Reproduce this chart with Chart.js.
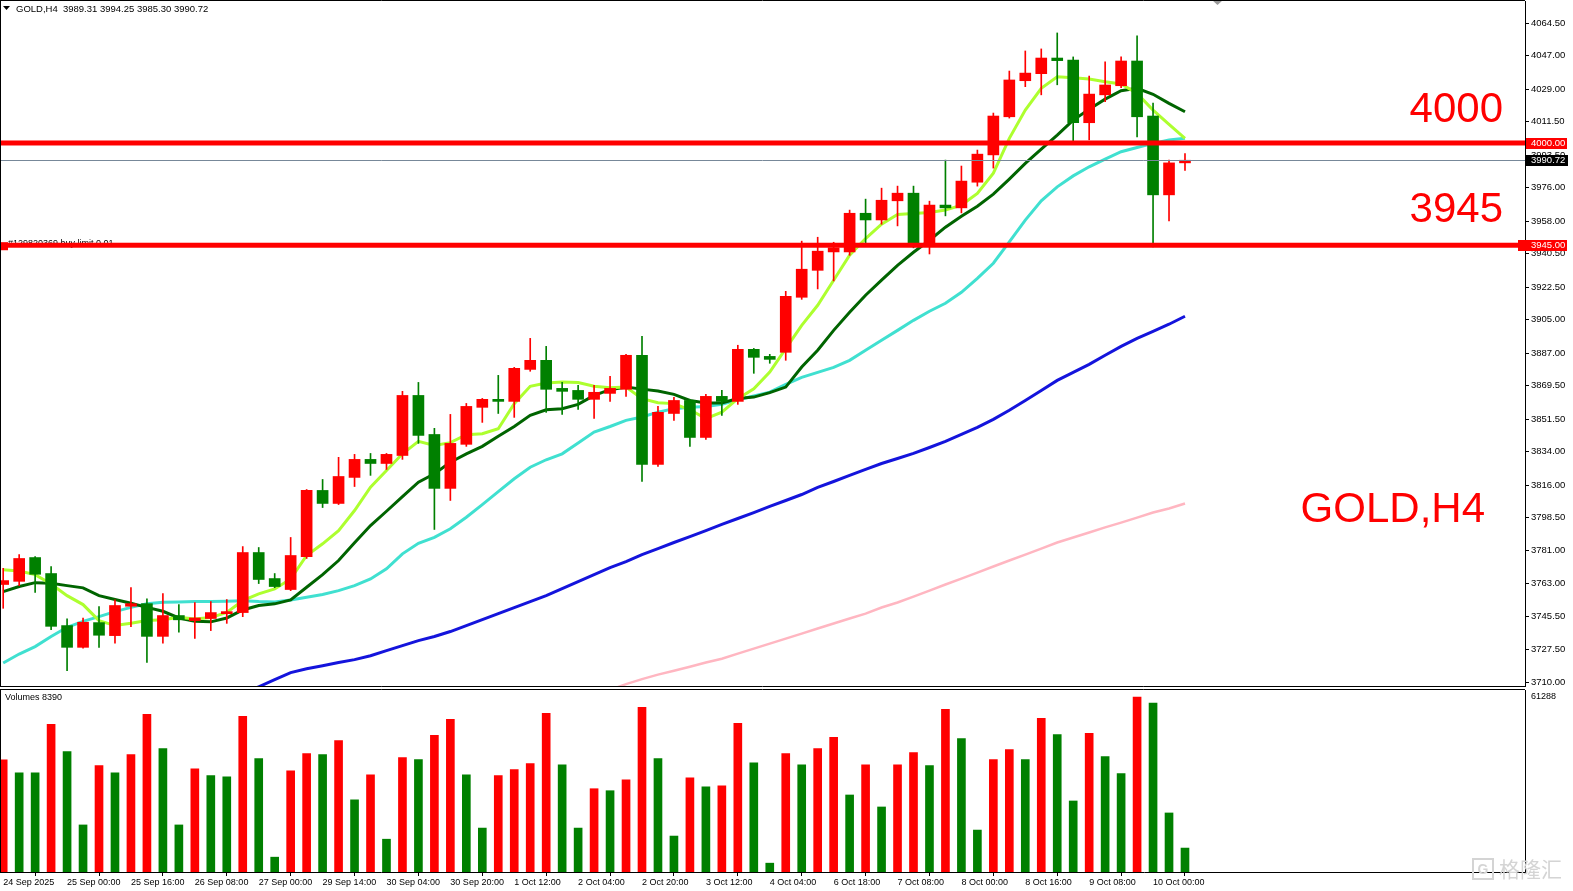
<!DOCTYPE html>
<html>
<head>
<meta charset="utf-8">
<script src="https://cdn.jsdelivr.net/npm/chart.js@4.4.1/dist/chart.umd.min.js"></script>
<style>
  body { margin: 0; background: #fff; }
  #wrap { position: relative; width: 1573px; height: 891px; overflow: hidden; }
  #main { position: absolute; left: 0; top: 0; }
  #vol { position: absolute; left: 0; top: 689px; }
</style>
</head>
<body>
<div id="wrap">
  <canvas id="main" width="1573" height="688" style="width:1573px;height:688px"></canvas>
  <canvas id="vol" width="1573" height="202" style="width:1573px;height:202px"></canvas>
</div>
<script>
// GOLD H4 bars, 24 Sep - 10 Oct 2025
const timeLabels = ['24 Sep 2025', '25 Sep 00:00', '25 Sep 16:00', '26 Sep 08:00', '27 Sep 00:00',
  '29 Sep 14:00', '30 Sep 04:00', '30 Sep 20:00', '1 Oct 12:00', '2 Oct 04:00', '2 Oct 20:00',
  '3 Oct 12:00', '4 Oct 04:00', '6 Oct 18:00', '7 Oct 08:00', '8 Oct 00:00', '8 Oct 16:00',
  '9 Oct 08:00', '10 Oct 00:00'];

const opens = [3762.5, 3764.2, 3777.0, 3768.4, 3740.4, 3728.7, 3742.0, 3735.0, 3750.8, 3752.2,
  3734.6, 3745.8, 3743.1, 3744.2, 3746.8, 3747.4, 3779.7, 3765.7, 3759.8, 3777.5,
  3813.1, 3806.1, 3820.1, 3829.8, 3827.6, 3831.9, 3864.2, 3843.2, 3814.2, 3837.9,
  3857.8, 3862.1, 3861.0, 3878.2, 3883.1, 3868.0, 3866.9, 3862.1, 3865.3, 3867.5,
  3885.8, 3827.1, 3854.5, 3861.5, 3841.6, 3863.7, 3861.0, 3889.0, 3885.2, 3887.4,
  3917.0, 3931.5, 3941.4, 3941.4, 3962.2, 3958.6, 3968.9, 3973.0, 3945.0, 3966.6,
  3965.1, 3978.9, 3993.6, 4014.1, 4033.5, 4037.3, 4045.7, 4044.6, 4010.9, 4025.9,
  4030.8, 4044.1, 4014.5, 3972.1, 3989.31];
const highs = [3771.2, 3778.6, 3777.5, 3772.2, 3744.0, 3744.5, 3750.6, 3754.2, 3760.8, 3754.8,
  3757.6, 3751.7, 3752.8, 3753.3, 3754.4, 3782.9, 3782.4, 3768.4, 3787.8, 3813.6,
  3819.0, 3830.9, 3832.5, 3833.0, 3833.0, 3866.4, 3871.2, 3846.5, 3854.0, 3859.9,
  3862.6, 3875.0, 3879.3, 3894.9, 3890.6, 3871.2, 3869.6, 3869.6, 3874.5, 3886.3,
  3896.0, 3858.3, 3863.2, 3862.1, 3864.8, 3866.9, 3891.2, 3889.5, 3886.3, 3920.2,
  3947.2, 3949.3, 3946.6, 3963.9, 3969.8, 3975.7, 3976.8, 3976.8, 3968.7, 3990.8,
  3987.6, 3996.2, 4016.1, 4038.7, 4049.5, 4050.6, 4059.2, 4046.3, 4036.0, 4043.6,
  4046.3, 4057.6, 4021.5, 3990.8, 3994.25];
const lows = [3749.7, 3761.9, 3758.3, 3738.2, 3716.1, 3728.3, 3728.7, 3730.9, 3739.8, 3720.6,
  3730.9, 3736.8, 3733.5, 3737.7, 3741.6, 3745.2, 3763.0, 3760.8, 3759.2, 3776.5,
  3803.9, 3805.5, 3815.2, 3821.2, 3824.4, 3829.8, 3838.4, 3792.1, 3807.7, 3836.8,
  3849.7, 3854.5, 3852.4, 3877.2, 3855.1, 3854.0, 3856.7, 3851.9, 3861.0, 3863.7,
  3817.9, 3826.0, 3850.8, 3836.8, 3840.5, 3853.5, 3859.4, 3876.1, 3881.5, 3883.1,
  3915.9, 3921.5, 3925.8, 3939.6, 3945.0, 3956.3, 3955.4, 3943.6, 3940.3, 3960.8,
  3962.4, 3976.8, 3986.5, 4013.4, 4030.3, 4025.9, 4031.3, 4000.6, 4001.7, 4022.2,
  4029.7, 4003.3, 3944.1, 3958.1, 3985.30];
const closes = [3764.6, 3776.5, 3768.0, 3740.0, 3728.7, 3742.2, 3735.2, 3751.2, 3752.2, 3734.6,
  3745.8, 3743.5, 3744.5, 3747.4, 3747.9, 3779.7, 3765.2, 3761.4, 3778.1, 3813.1,
  3806.1, 3820.6, 3829.8, 3827.6, 3832.5, 3864.2, 3842.7, 3814.2, 3838.4, 3858.3,
  3862.1, 3861.0, 3878.8, 3883.1, 3867.5, 3866.4, 3862.1, 3865.9, 3868.0, 3885.8,
  3827.1, 3855.1, 3861.5, 3841.6, 3863.7, 3861.0, 3889.0, 3884.7, 3883.6, 3917.5,
  3932.1, 3941.8, 3943.6, 3962.2, 3958.6, 3969.2, 3973.0, 3945.0, 3966.6, 3965.1,
  3979.5, 3994.0, 4014.5, 4033.9, 4037.6, 4045.7, 4044.3, 4010.9, 4026.3, 4031.2,
  4044.1, 4014.1, 3972.1, 3989.3, 3990.72];

const volumes = [39300, 34800, 34800, 51800, 42200, 16500, 37300, 34800, 41200, 55300,
  43300, 16500, 36200, 33800, 33400, 54600, 39800, 5200, 35500, 41500,
  41200, 46100, 25300, 34100, 11500, 40100, 39400, 47900, 53500, 34100,
  15400, 33800, 35900, 38000, 55600, 37600, 15400, 29200, 28500, 32300,
  57700, 39800, 12600, 33000, 29900, 30200, 52100, 38300, 3100, 41500,
  37600, 43300, 47200, 27000, 37600, 22800, 37600, 41900, 37300, 57000,
  46800, 14700, 39400, 42900, 39400, 53900, 48200, 24900, 48600, 40500,
  34500, 61288, 59200, 20700, 8390];

// moving averages as drawn on the chart
const maLime = [3770.4, 3769.8, 3767.8, 3762.8, 3756.5, 3751.7, 3743.1, 3740.4, 3741.6, 3743.1,
  3743.5, 3744.9, 3744.0, 3744.7, 3747.5, 3753.8, 3757.5, 3760.1, 3765.5, 3778.1,
  3784.4, 3791.5, 3802.3, 3814.9, 3823.8, 3832.8, 3839.5, 3837.3, 3838.8, 3843.1,
  3843.6, 3846.3, 3859.8, 3869.1, 3870.9, 3871.4, 3871.1, 3869.1, 3868.4, 3868.7,
  3862.5, 3860.3, 3859.8, 3856.5, 3851.7, 3855.2, 3862.5, 3867.8, 3876.8, 3889.4,
  3901.9, 3912.7, 3926.2, 3939.6, 3948.6, 3956.3, 3961.5, 3962.1, 3962.6, 3963.9,
  3966.6, 3972.9, 3983.8, 4002.5, 4017.7, 4029.4, 4035.6, 4035.1, 4034.4, 4032.9,
  4031.7, 4026.7, 4017.7, 4010.0, 4002.5];
const maGreen = [3758.7, 3761.4, 3763.5, 3763.2, 3761.9, 3760.7, 3756.5, 3754.4, 3752.4, 3750.2,
  3748.1, 3744.5, 3742.7, 3742.4, 3744.5, 3748.8, 3751.2, 3752.1, 3754.2, 3761.0,
  3767.8, 3775.4, 3784.9, 3794.2, 3801.9, 3809.8, 3817.5, 3822.1, 3828.3, 3832.8,
  3836.8, 3842.2, 3847.5, 3853.5, 3856.5, 3857.1, 3859.4, 3864.2, 3867.3, 3868.7,
  3867.6, 3866.6, 3864.8, 3861.5, 3860.1, 3860.1, 3862.5, 3863.3, 3865.7, 3868.7,
  3879.5, 3888.5, 3899.2, 3908.9, 3918.1, 3926.2, 3934.2, 3941.2, 3947.7, 3954.7,
  3960.6, 3966.0, 3972.5, 3980.6, 3989.0, 3996.7, 4004.2, 4012.3, 4018.2, 4023.6,
  4028.1, 4029.4, 4026.2, 4021.3, 4016.8];
const maAqua = [3720.3, 3725.1, 3729.1, 3734.5, 3739.5, 3742.7, 3745.2, 3747.9, 3750.2, 3752.1,
  3752.9, 3753.1, 3753.3, 3753.3, 3753.5, 3753.8, 3753.3, 3753.1, 3754.2, 3755.6,
  3757.1, 3759.2, 3761.9, 3765.5, 3770.9, 3779.0, 3784.7, 3787.9, 3792.5, 3798.7,
  3805.5, 3812.5, 3819.4, 3825.6, 3829.6, 3832.8, 3838.6, 3844.5, 3847.5, 3850.8,
  3852.6, 3855.2, 3857.1, 3857.9, 3858.3, 3859.4, 3861.9, 3863.9, 3866.0, 3870.2,
  3873.9, 3876.6, 3879.3, 3883.1, 3888.5, 3893.9, 3899.2, 3904.6, 3909.5, 3913.8,
  3919.7, 3927.2, 3935.3, 3946.8, 3958.5, 3968.9, 3976.4, 3982.3, 3987.2, 3991.3,
  3995.3, 3997.6, 3999.8, 4001.6, 4002.5];
const maBlue = [null, null, null, null, null, null, null, null, null, null,
  null, null, null, null, 3700.5, 3703.5, 3707.5, 3711.3, 3715.1, 3717.2,
  3718.8, 3720.5, 3722.1, 3724.2, 3726.9, 3729.6, 3732.3, 3734.5, 3737.2, 3740.4,
  3743.6, 3746.8, 3750.1, 3753.3, 3756.5, 3760.3, 3764.1, 3767.8, 3771.6, 3774.8,
  3778.6, 3781.8, 3785.1, 3788.3, 3791.5, 3794.8, 3798.0, 3801.2, 3804.5, 3807.7,
  3810.9, 3814.7, 3817.9, 3821.2, 3824.4, 3827.6, 3830.3, 3833.0, 3836.2, 3839.5,
  3843.2, 3847.0, 3851.3, 3856.2, 3861.5, 3866.9, 3872.3, 3876.6, 3880.9, 3885.8,
  3890.6, 3894.9, 3898.7, 3902.5, 3906.8];
const maPink = [null, null, null, null, null, null, null, null, null, null,
  null, null, null, null, null, null, null, null, null, null,
  null, null, null, null, null, null, null, null, null, null,
  null, null, null, null, null, null, null, null, 3705.8, 3708.9,
  3711.6, 3714.0, 3716.1, 3718.3, 3720.5, 3722.6, 3725.3, 3728.0, 3730.7, 3733.4,
  3736.1, 3738.8, 3741.5, 3744.2, 3746.8, 3750.1, 3752.8, 3756.0, 3759.2, 3762.5,
  3765.7, 3768.9, 3772.2, 3775.4, 3778.6, 3781.8, 3785.1, 3787.8, 3790.5, 3793.2,
  3795.8, 3798.5, 3801.2, 3803.4, 3806.1];

const priceTicks = [4064.5, 4047.0, 4029.0, 4011.5, 3993.5, 3976.0, 3958.0, 3940.5, 3922.5, 3905.0,
  3887.0, 3869.5, 3851.5, 3834.0, 3816.0, 3798.5, 3781.0, 3763.0, 3745.5, 3727.5, 3710.0];
const levels = [4000, 3945];
const volTick = 61288;

const UP = '#ff0000';
const DOWN = '#008000';
const AXIS_W = 48;
const X_MIN = -0.2, X_MAX = 95.29;
const Y_MIN = 3707.9, Y_MAX = 4076.38;
const VOL_MAX = 63810;
const FONT = '"Liberation Sans", Arial, sans-serif';

Chart.defaults.font.family = FONT;
Chart.defaults.font.size = 9;
Chart.defaults.color = '#000';

const idx = closes.map((c, i) => i);
const last = closes.length - 1;
const candleColor = closes.map((c, i) => c >= opens[i] ? UP : DOWN);
const volColor = volumes.map((v, i) => (i === 0 || v > volumes[i - 1]) ? UP : DOWN);

function maLine(values, color, order, width) {
  return {
    type: 'line',
    data: idx.map(i => ({ x: i, y: values[i] })),
    borderColor: color,
    borderWidth: width || 3,
    pointRadius: 0,
    tension: 0,
    fill: false,
    order: order
  };
}

function hline(ctx, x1, x2, y) {
  ctx.beginPath();
  ctx.moveTo(x1, y);
  ctx.lineTo(x2, y);
  ctx.stroke();
}

function tag(ctx, y, text, bg, left, right) {
  const yy = Math.round(y);
  ctx.fillStyle = bg;
  ctx.fillRect(left, yy - 5, right - left, 11);
  ctx.fillStyle = '#fff';
  ctx.textAlign = 'left';
  ctx.textBaseline = 'middle';
  ctx.fillText(text, 1531, yy + 0.5);
}

// y axis: fixed width, no extra room for the end labels
function fitRightAxis(s) {
  s.width = AXIS_W;
  s.paddingTop = 0;
  s.paddingBottom = 0;
}

const mainDecor = {
  id: 'mainDecor',
  afterDatasetsDraw(chart) {
    const { ctx, chartArea: a, scales: { y } } = chart;
    ctx.save();
    // order note under the buy-limit line
    ctx.font = '9px ' + FONT;
    ctx.fillStyle = '#000';
    ctx.textAlign = 'left';
    ctx.textBaseline = 'alphabetic';
    ctx.fillText('#129820369 buy limit 0.01', 8, y.getPixelForValue(levels[1]) + 1);

    // bid line
    ctx.strokeStyle = '#778899';
    ctx.lineWidth = 1;
    hline(ctx, 0, a.right, Math.round(y.getPixelForValue(closes[last])) + 0.5);

    // horizontal levels
    ctx.fillStyle = '#ff0000';
    levels.forEach(v => {
      const py = y.getPixelForValue(v);
      ctx.fillRect(0, py - 2.5, a.right, 5);
    });
    const pb = y.getPixelForValue(levels[1]);
    ctx.fillRect(0, pb - 3, 8, 8);
    ctx.restore();
  },
  afterDraw(chart) {
    const { ctx, chartArea: a, scales: { y } } = chart;
    ctx.save();
    ctx.font = '9.5px ' + FONT;
    tag(ctx, y.getPixelForValue(closes[last]), closes[last].toFixed(2), '#000', 1526, 1568);
    tag(ctx, y.getPixelForValue(levels[0]), levels[0].toFixed(2), '#ff0000', 1526, 1567);
    tag(ctx, y.getPixelForValue(levels[1]), levels[1].toFixed(2), '#ff0000', 1518, 1567);

    // header
    ctx.fillStyle = '#000';
    ctx.beginPath();
    ctx.moveTo(3, 6); ctx.lineTo(10, 6); ctx.lineTo(6.5, 10); ctx.closePath();
    ctx.fill();
    ctx.textAlign = 'left';
    ctx.textBaseline = 'alphabetic';
    const hdr = 'GOLD,H4  ' + [opens[last], highs[last], lows[last], closes[last]].map(v => v.toFixed(2)).join(' ');
    ctx.fillText(hdr, 16, 12);

    // big annotations
    ctx.fillStyle = '#ff0000';
    ctx.font = '42px ' + FONT;
    ctx.textAlign = 'right';
    ctx.fillText(String(levels[0]), 1503, 122);
    ctx.fillText(String(levels[1]), 1503, 222);
    ctx.fillText('GOLD,H4', 1485, 522);

    // shift marker
    ctx.fillStyle = '#9a9a9a';
    ctx.beginPath();
    ctx.moveTo(1212, 0); ctx.lineTo(1223, 0); ctx.lineTo(1217.5, 5); ctx.closePath();
    ctx.fill();

    // frame
    ctx.strokeStyle = '#000';
    ctx.lineWidth = 1;
    ctx.beginPath();
    ctx.moveTo(0.5, 0); ctx.lineTo(0.5, a.bottom);
    ctx.stroke();
    hline(ctx, 0, a.right, 0.5);
    hline(ctx, 0, a.right, a.bottom + 0.5);
    ctx.restore();
  }
};

const volDecor = {
  id: 'volDecor',
  afterDraw(chart) {
    const { ctx, chartArea: a } = chart;
    ctx.save();
    ctx.strokeStyle = '#000';
    ctx.lineWidth = 1;
    hline(ctx, 0, a.right, 0.5);
    ctx.beginPath();
    ctx.moveTo(0.5, 0); ctx.lineTo(0.5, a.bottom);
    ctx.stroke();
    ctx.fillStyle = '#000';
    ctx.font = '9px ' + FONT;
    ctx.textAlign = 'left';
    ctx.textBaseline = 'alphabetic';
    ctx.fillText('Volumes ' + volumes[last], 5, 11);

    // watermark
    ctx.strokeStyle = '#d4d4d4';
    ctx.lineWidth = 2;
    ctx.strokeRect(1473, 170, 20, 20);
    ctx.fillStyle = '#d4d4d4';
    ctx.font = 'bold 14px ' + FONT;
    ctx.textAlign = 'center';
    ctx.fillText('G', 1483, 185);
    ctx.font = '21px "Noto Sans CJK SC", sans-serif';
    ctx.textAlign = 'left';
    ctx.fillText('格隆汇', 1499, 188);
    ctx.restore();
  }
};

new Chart(document.getElementById('main'), {
  type: 'bar',
  data: {
    datasets: [
      {
        label: 'body',
        data: idx.map(i => ({ x: i, y: [opens[i], closes[i]] })),
        backgroundColor: candleColor,
        barThickness: 11,
        grouped: false,
        order: 1
      },
      {
        label: 'wick',
        data: idx.map(i => ({ x: i, y: [lows[i], highs[i]] })),
        backgroundColor: candleColor,
        barThickness: 1,
        grouped: false,
        order: 2
      },
      maLine(maPink, '#ffb6c1', 14, 2.5),
      maLine(maBlue, '#1414dc', 13),
      maLine(maAqua, '#40e0d0', 12),
      maLine(maGreen, '#006400', 11),
      maLine(maLime, '#adff2f', 10)
    ]
  },
  options: {
    responsive: false,
    animation: false,
    layout: { padding: { top: 1, bottom: 2, left: 0, right: 0 } },
    plugins: { legend: { display: false }, tooltip: { enabled: false } },
    scales: {
      x: { type: 'linear', display: false, min: X_MIN, max: X_MAX, offset: false },
      y: {
        type: 'linear',
        position: 'right',
        min: Y_MIN,
        max: Y_MAX,
        afterBuildTicks: s => { s.ticks = priceTicks.map(v => ({ value: v })); },
        afterFit: fitRightAxis,
        border: { display: true, color: '#000' },
        grid: { drawOnChartArea: false, drawTicks: true, tickLength: 4, color: '#000' },
        ticks: {
          padding: 2, autoSkip: false, color: '#000', font: { size: 9.5 },
          callback: v => Number(v).toFixed(2)
        }
      }
    }
  },
  plugins: [mainDecor]
});

new Chart(document.getElementById('vol'), {
  type: 'bar',
  data: {
    datasets: [{
      data: idx.map(i => ({ x: i, y: volumes[i] })),
      backgroundColor: volColor,
      barThickness: 8,
      grouped: false
    }]
  },
  options: {
    responsive: false,
    animation: false,
    layout: { padding: { top: 1, left: 0, right: 0, bottom: 0 } },
    plugins: { legend: { display: false }, tooltip: { enabled: false } },
    scales: {
      x: {
        type: 'linear',
        position: 'bottom',
        min: X_MIN,
        max: X_MAX,
        offset: false,
        afterBuildTicks: s => { s.ticks = timeLabels.map((t, k) => ({ value: k * 4 })); },
        afterFit: s => { s.height = 19; s.paddingLeft = 0; s.paddingRight = 0; },
        border: { display: true, color: '#000' },
        grid: { drawOnChartArea: false, drawTicks: true, tickLength: 4, color: '#000' },
        ticks: {
          align: 'start', maxRotation: 0, minRotation: 0, autoSkip: false, padding: 1, color: '#000',
          callback: v => timeLabels[Math.round(v / 4)]
        }
      },
      y: {
        type: 'linear',
        position: 'right',
        min: 0,
        max: VOL_MAX,
        afterBuildTicks: s => { s.ticks = [{ value: volTick }]; },
        afterFit: fitRightAxis,
        border: { display: true, color: '#000' },
        grid: { drawOnChartArea: false, drawTicks: false },
        ticks: { padding: 6, labelOffset: -1, color: '#000', callback: v => String(v) }
      }
    }
  },
  plugins: [volDecor]
});
</script>
</body>
</html>
